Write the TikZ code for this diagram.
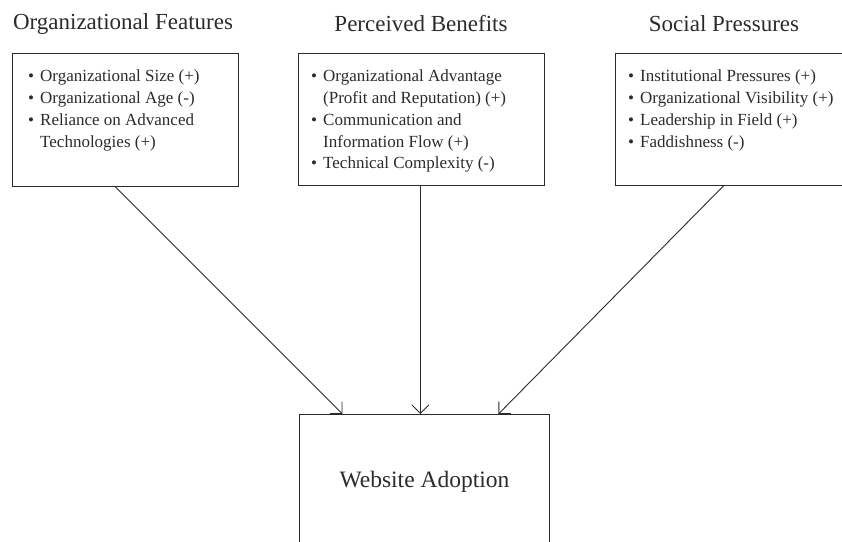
\documentclass[tikz,border=0pt]{standalone}
\usepackage{fontspec}
\setmainfont{Liberation Serif}
\usetikzlibrary{arrows.meta}
\definecolor{inkGrey}{rgb}{0.17, 0.17, 0.17}
\newcommand{\bul}{\makebox[12pt][l]{\textbullet}}
\newcommand{\cont}{\hspace*{12pt}}

\begin{document}
\begin{tikzpicture}[x = 1pt, y = -1pt, color = inkGrey,
  box/.style = {draw, line width = .9pt, anchor = north west, align = left,
    inner xsep = 16pt, inner ysep = 0pt, text depth = 0pt},
  title/.style = {font = \fontsize{23}{27}\selectfont},
  items/.style = {font = \fontsize{17}{21.7}\selectfont},
  arr/.style = {-{Straight Barb[angle = 90:12pt]}, line width = .9pt}]
\useasboundingbox (0, 0) rectangle (842, 541);
\clip (0, 0) rectangle (842, 541);

\node (featT) [title] at (123, 24) {Organizational Features};
\node (benT) [title] at (421, 24) {Perceived Benefits};
\node (socT) [title] at (724, 24) {Social Pressures};

\node (feat) [box, minimum width = 226pt, minimum height = 133pt] at (12, 53) {};
\node [items, anchor = north west, align = left, inner sep = 0pt] at (28, 70)
  {\bul Organizational Size (+)\\ \bul Organizational Age (-)\\
   \bul Reliance on Advanced\\ \cont Technologies (+)};

\node (ben) [box, minimum width = 246pt, minimum height = 132pt] at (298, 53) {};
\node [items, anchor = north west, align = left, inner sep = 0pt] at (311, 70)
  {\bul Organizational Advantage\\ \cont (Profit and Reputation) (+)\\
   \bul Communication and\\ \cont Information Flow (+)\\
   \bul Technical Complexity (-)};

\node (soc) [box, minimum width = 240pt, minimum height = 132pt] at (615, 53) {};
\node [items, anchor = north west, align = left, inner sep = 0pt] at (628, 70)
  {\bul Institutional Pressures (+)\\ \bul Organizational Visibility (+)\\
   \bul Leadership in Field (+)\\ \bul Faddishness (-)};

\node (adopt) [draw, line width = .9pt, minimum width = 250pt, minimum height = 134pt,
  anchor = north west, font = \fontsize{23.5}{27}\selectfont] at (299, 414) {Website Adoption};

\draw [arr] ([xshift = -10pt]feat.south) -- ([xshift = -82pt]adopt.north);
\draw [arr] ([xshift = -1pt]ben.south) -- ([xshift = -4pt]adopt.north);
\draw [arr] ([xshift = -12pt]soc.south) -- ([xshift = 74pt]adopt.north);

\end{tikzpicture}
\end{document}
